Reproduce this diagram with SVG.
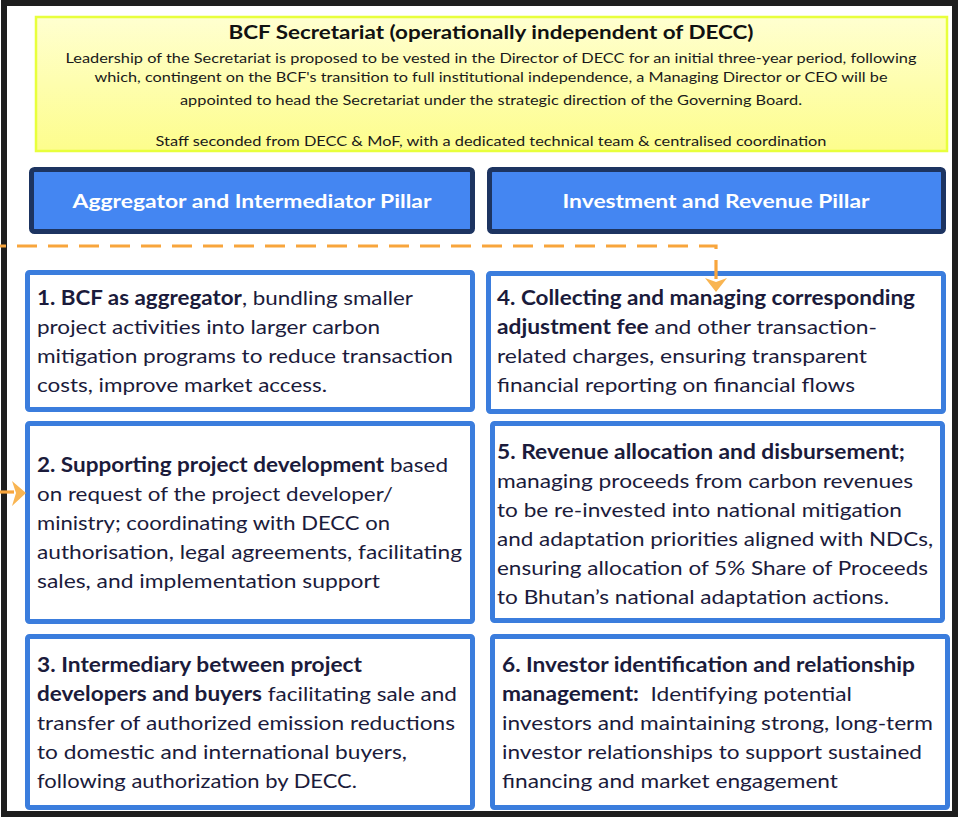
<svg xmlns="http://www.w3.org/2000/svg" width="958" height="817" viewBox="0 0 958 817">
<defs>
<linearGradient id="yel" x1="0" y1="0" x2="0" y2="1">
<stop offset="0" stop-color="#ffffd0"/>
<stop offset="1" stop-color="#fdfd8c"/>
</linearGradient>
<style>
.frame{fill:#ffffff;stroke:#1e1e1e;stroke-width:6}
.yel{fill:url(#yel);stroke:#e8ff3c;stroke-width:2.5}
.hdr{fill:#4486f2;stroke:#1d3461;stroke-width:5}
.box{fill:#ffffff;stroke:#3b7ddd;stroke-width:5}
.yt{font-family:Lato,"Liberation Sans",sans-serif;font-size:14px;fill:#1a1a1a;text-anchor:middle}
.yh{font-family:Lato,"Liberation Sans",sans-serif;font-size:19px;font-weight:bold;fill:#111111;text-anchor:middle}
.ht{font-family:Lato,"Liberation Sans",sans-serif;font-size:19px;font-weight:bold;fill:#ffffff;text-anchor:middle}
.bt{font-family:Lato,"Liberation Sans",sans-serif;font-size:20px;fill:#1b1b3b}
.b{font-weight:bold}
.con{fill:none;stroke:#f8a53c;stroke-width:3.2}
.ah{fill:#f9b552}
</style>
</defs>
<rect class="frame" x="4" y="3" width="951" height="811"/>

<g id="secretariat">
<rect class="yel" x="36" y="17" width="911" height="134"/>
<text class="yh" x="491" y="39" textLength="525" lengthAdjust="spacingAndGlyphs">BCF Secretariat (operationally independent of DECC)</text>
<text class="yt" x="491" y="63" textLength="851" lengthAdjust="spacingAndGlyphs">Leadership of the Secretariat is proposed to be vested in the Director of DECC for an initial three-year period, following</text>
<text class="yt" x="491" y="82" textLength="793" lengthAdjust="spacingAndGlyphs">which, contingent on the BCF's transition to full institutional independence, a Managing Director or CEO will be</text>
<text class="yt" x="491" y="105" textLength="622" lengthAdjust="spacingAndGlyphs">appointed to head the Secretariat under the strategic direction of the Governing Board.</text>
<text class="yt" x="491" y="146" textLength="671" lengthAdjust="spacingAndGlyphs">Staff seconded from DECC &amp; MoF, with a dedicated technical team &amp; centralised coordination</text>
</g>

<g id="pillar-aggregator">
<rect class="hdr" x="31.5" y="169.5" width="441" height="62" rx="3"/>
<text class="ht" x="252" y="208" textLength="359" lengthAdjust="spacingAndGlyphs">Aggregator and Intermediator Pillar</text>
</g>
<g id="pillar-investment">
<rect class="hdr" x="489.5" y="169.5" width="454" height="62" rx="3"/>
<text class="ht" x="716" y="208" textLength="307" lengthAdjust="spacingAndGlyphs">Investment and Revenue Pillar</text>
</g>

<g id="box1">
<rect class="box" x="27.5" y="272.5" width="445" height="137" rx="2"/>
<text class="bt" x="37" y="305" textLength="376" lengthAdjust="spacingAndGlyphs"><tspan class="b">1. BCF as aggregator</tspan>, bundling smaller</text>
<text class="bt" x="37" y="334" textLength="343" lengthAdjust="spacingAndGlyphs">project activities into larger carbon</text>
<text class="bt" x="37" y="363" textLength="416" lengthAdjust="spacingAndGlyphs">mitigation programs to reduce transaction</text>
<text class="bt" x="37" y="392" textLength="290" lengthAdjust="spacingAndGlyphs">costs, improve market access.</text>
</g>

<g id="box2">
<rect class="box" x="27.5" y="423.5" width="445" height="198" rx="2"/>
<text class="bt" x="37" y="472" textLength="411" lengthAdjust="spacingAndGlyphs"><tspan class="b">2. Supporting project development</tspan> based</text>
<text class="bt" x="37" y="501" textLength="356" lengthAdjust="spacingAndGlyphs">on request of the project developer/</text>
<text class="bt" x="37" y="530" textLength="353" lengthAdjust="spacingAndGlyphs">ministry; coordinating with DECC on</text>
<text class="bt" x="37" y="559" textLength="425" lengthAdjust="spacingAndGlyphs">authorisation, legal agreements, facilitating</text>
<text class="bt" x="37" y="588" textLength="343" lengthAdjust="spacingAndGlyphs">sales, and implementation support</text>
</g>

<g id="box3">
<rect class="box" x="27.5" y="636.5" width="445" height="171" rx="2"/>
<text class="bt b" x="37" y="672" textLength="325" lengthAdjust="spacingAndGlyphs">3. Intermediary between project</text>
<text class="bt" x="37" y="701" textLength="420" lengthAdjust="spacingAndGlyphs"><tspan class="b">developers and buyers</tspan> facilitating sale and</text>
<text class="bt" x="37" y="730" textLength="418" lengthAdjust="spacingAndGlyphs">transfer of authorized emission reductions</text>
<text class="bt" x="37" y="759" textLength="370" lengthAdjust="spacingAndGlyphs">to domestic and international buyers,</text>
<text class="bt" x="37" y="788" textLength="320" lengthAdjust="spacingAndGlyphs">following authorization by DECC.</text>
</g>

<g id="box4">
<rect class="box" x="488.5" y="273.5" width="455" height="138" rx="2"/>
<text class="bt b" x="497" y="305" textLength="418" lengthAdjust="spacingAndGlyphs">4. Collecting and managing corresponding</text>
<text class="bt" x="497" y="334" textLength="380" lengthAdjust="spacingAndGlyphs"><tspan class="b">adjustment fee</tspan> and other transaction-</text>
<text class="bt" x="497" y="363" textLength="370" lengthAdjust="spacingAndGlyphs">related charges, ensuring transparent</text>
<text class="bt" x="497" y="392" textLength="358" lengthAdjust="spacingAndGlyphs">financial reporting on financial flows</text>
</g>

<g id="box5">
<rect class="box" x="492.5" y="423.5" width="450" height="197" rx="2"/>
<text class="bt b" x="497" y="459" textLength="408" lengthAdjust="spacingAndGlyphs">5. Revenue allocation and disbursement;</text>
<text class="bt" x="497" y="488" textLength="416" lengthAdjust="spacingAndGlyphs">managing proceeds from carbon revenues</text>
<text class="bt" x="497" y="517" textLength="405" lengthAdjust="spacingAndGlyphs">to be re-invested into national mitigation</text>
<text class="bt" x="497" y="546" textLength="436" lengthAdjust="spacingAndGlyphs">and adaptation priorities aligned with NDCs,</text>
<text class="bt" x="497" y="575" textLength="431" lengthAdjust="spacingAndGlyphs">ensuring allocation of 5% Share of Proceeds</text>
<text class="bt" x="497" y="604" textLength="392" lengthAdjust="spacingAndGlyphs">to Bhutan’s national adaptation actions.</text>
</g>

<g id="box6">
<rect class="box" x="492.5" y="636.5" width="455" height="171" rx="2"/>
<text class="bt b" x="502" y="672" textLength="413" lengthAdjust="spacingAndGlyphs">6. Investor identification and relationship</text>
<text class="bt" x="502" y="701" textLength="350" lengthAdjust="spacingAndGlyphs" xml:space="preserve"><tspan class="b">management:</tspan>  Identifying potential</text>
<text class="bt" x="502" y="730" textLength="431" lengthAdjust="spacingAndGlyphs">investors and maintaining strong, long-term</text>
<text class="bt" x="502" y="759" textLength="420" lengthAdjust="spacingAndGlyphs">investor relationships to support sustained</text>
<text class="bt" x="502" y="788" textLength="336" lengthAdjust="spacingAndGlyphs">financing and market engagement</text>
</g>

<g id="connectors">
<path class="con" d="M0 246 H716 V279" stroke-dasharray="20 11" stroke-dashoffset="14"/>
<polygon class="ah" points="705,278 716,282 727,278 716,292"/>
<line class="con" x1="0" y1="492" x2="14" y2="492"/>
<polygon class="ah" points="12,481 26,493 12,506 16,493"/>
</g>
</svg>
